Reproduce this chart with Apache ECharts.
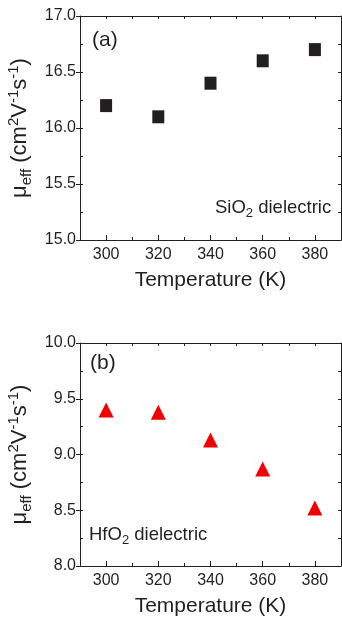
<!DOCTYPE html>
<html>
<head>
<meta charset="utf-8">
<script src="https://cdn.jsdelivr.net/npm/echarts@6/dist/echarts.min.js"></script>
<style>
  html, body { margin: 0; padding: 0; background: #fff; }
  #chart { width: 342px; height: 628px; }
</style>
</head>
<body>
<div id="chart"></div>
<script>
// data
var temps = [300, 320, 340, 360, 380];
var sio2Mobility = [16.2, 16.1, 16.4, 16.6, 16.7];
var hfo2Mobility = [9.4, 9.38, 9.13, 8.87, 8.52];
var tempTicks = [300, 320, 340, 360, 380];
var sio2Range = [15, 17];
var hfo2Range = [8, 10];

var FONT = '"Liberation Sans", Arial, sans-serif';
var INK = '#231f20';

function pairs(xs, ys) {
    return xs.map(function (x, i) { return [x, ys[i]]; });
}

// bottom axis with labels, bottom minor ticks, top frame axis
function xAxes(g) {
    return [{
        gridIndex: g, type: 'value', min: 290, max: 390, position: 'bottom',
        axisLine: { show: true, lineStyle: { color: INK, width: 1 } },
        axisTick: { show: true, inside: true, length: 5, customValues: tempTicks, lineStyle: { color: INK } },
        axisLabel: { customValues: tempTicks, margin: 7, fontFamily: FONT, fontSize: 16, color: INK },
        splitLine: { show: false },
        name: 'Temperature (K)', nameLocation: 'middle', nameGap: 30,
        nameTextStyle: { fontFamily: FONT, fontSize: 21, color: INK, verticalAlign: 'top' }
    }, {
        gridIndex: g, type: 'value', min: 290, max: 390, interval: 10, position: 'bottom',
        axisLine: { show: false },
        axisTick: { show: true, inside: true, length: 3, lineStyle: { color: INK } },
        axisLabel: { show: false }, splitLine: { show: false }
    }, {
        gridIndex: g, type: 'value', min: 290, max: 390, interval: 10, position: 'top',
        axisLine: { show: true, lineStyle: { color: INK, width: 1 } },
        axisTick: { show: true, inside: true, length: 3, lineStyle: { color: INK } },
        axisLabel: { show: false }, splitLine: { show: false }
    }];
}

function yAxes(g, range) {
    return [{
        gridIndex: g, type: 'value', min: range[0], max: range[1], interval: 0.5, position: 'left',
        axisLine: { show: true, lineStyle: { color: INK, width: 1 } },
        axisTick: { show: true, inside: false, length: 4, lineStyle: { color: INK } },
        axisLabel: { margin: 4, fontFamily: FONT, fontSize: 16, color: INK,
            formatter: function (v) { return v.toFixed(1); } },
        splitLine: { show: false },
        name: '{t|μ}{sub|eff}{t| (cm}{sup|2}{t|V}{sup|-1}{t|s}{sup|-1}{t|)}',
        nameLocation: 'middle', nameRotate: 90, nameGap: 43,
        nameTextStyle: {
            rich: {
                t: { fontFamily: FONT, fontSize: 22, color: INK, lineHeight: 28 },
                sup: { fontFamily: FONT, fontSize: 15, color: INK, lineHeight: 15, verticalAlign: 'top' },
                sub: { fontFamily: FONT, fontSize: 15, color: INK, lineHeight: 15, verticalAlign: 'bottom' }
            }
        }
    }, {
        gridIndex: g, type: 'value', min: range[0], max: range[1], interval: 0.25, position: 'left',
        axisLine: { show: false },
        axisTick: { show: true, inside: true, length: 3, lineStyle: { color: INK } },
        axisLabel: { show: false }, splitLine: { show: false }
    }, {
        gridIndex: g, type: 'value', min: range[0], max: range[1], interval: 0.25, position: 'right',
        axisLine: { show: true, lineStyle: { color: INK, width: 1 } },
        axisTick: { show: true, inside: true, length: 3, lineStyle: { color: INK } },
        axisLabel: { show: false }, splitLine: { show: false }
    }];
}

var noteRich = {
    t: { fontFamily: FONT, fontSize: 18.5, fill: INK, color: INK, lineHeight: 24 },
    s: { fontFamily: FONT, fontSize: 13, fill: INK, color: INK, lineHeight: 13, verticalAlign: 'bottom' }
};

var chart = echarts.init(document.getElementById('chart'), null, { renderer: 'canvas' });
chart.setOption({
    animation: false,
    backgroundColor: '#fff',
    grid: [
        { left: 80, right: 1, top: 16, height: 224, containLabel: false, outerBoundsMode: 'none' },
        { left: 80, right: 1, top: 343, height: 223, containLabel: false, outerBoundsMode: 'none' }
    ],
    xAxis: xAxes(0).concat(xAxes(1)),
    yAxis: yAxes(0, sio2Range).concat(yAxes(1, hfo2Range)),
    graphic: [
        { type: 'text', left: 92, top: 30, style: { text: '(a)', font: '21px ' + FONT, fill: INK } },
        { type: 'text', left: 90, top: 353, style: { text: '(b)', font: '21px ' + FONT, fill: INK } },
        { type: 'text', left: 215, top: 198, style: { text: '{t|SiO}{s|2}{t| dielectric}', rich: noteRich } },
        { type: 'text', left: 89, top: 525, style: { text: '{t|HfO}{s|2}{t| dielectric}', rich: noteRich } }
    ],
    series: [{
        type: 'scatter', xAxisIndex: 0, yAxisIndex: 0,
        symbol: 'rect', symbolSize: [12, 13],
        itemStyle: { color: INK, opacity: 1 },
        data: pairs(temps, sio2Mobility)
    }, {
        type: 'scatter', xAxisIndex: 3, yAxisIndex: 3,
        symbol: 'triangle', symbolSize: 15,
        itemStyle: { color: '#f20000', opacity: 1 },
        data: pairs(temps, hfo2Mobility)
    }]
});
</script>
</body>
</html>
